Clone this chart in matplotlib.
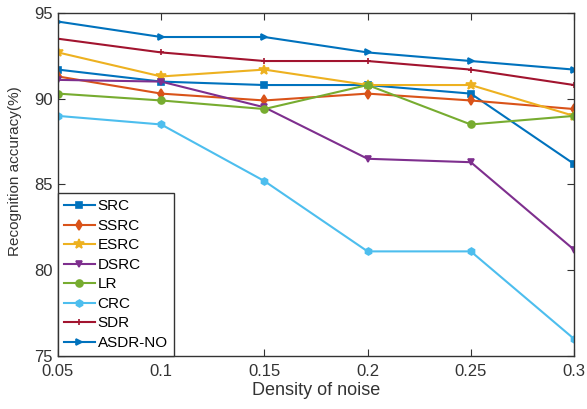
import matplotlib
matplotlib.use("Agg")
import matplotlib.pyplot as plt

x = [0.05, 0.1, 0.15, 0.2, 0.25, 0.3]
names = ["SRC", "SSRC", "ESRC", "DSRC", "LR", "CRC", "SDR", "ASDR-NO"]
src = [91.7, 91.0, 90.8, 90.8, 90.3, 86.2]
ssrc = [91.3, 90.3, 89.9, 90.3, 89.9, 89.4]
esrc = [92.7, 91.3, 91.7, 90.8, 90.8, 89.0]
dsrc = [91.1, 91.0, 89.5, 86.5, 86.3, 81.2]
lr = [90.3, 89.9, 89.4, 90.8, 88.5, 89.0]
crc = [89.0, 88.5, 85.2, 81.1, 81.1, 76.0]
sdr = [93.5, 92.7, 92.2, 92.2, 91.7, 90.8]
asdr = [94.5, 93.6, 93.6, 92.7, 92.2, 91.7]
series = [src, ssrc, esrc, dsrc, lr, crc, sdr, asdr]

colors = ["#0072BD", "#D95319", "#EDB120", "#7E2F8E", "#77AC30", "#4DBEEE", "#A2142F", "#0072BD"]
markers = ["s", "d", "*", "v", "o", "h", "+", ">"]

plt.rcParams['font.family'] = ['Liberation Sans', 'DejaVu Sans']
fig = plt.figure(figsize=(5.87, 4.09), dpi=100)
ax = fig.add_axes([58/587, 1-356/409, (574-58)/587, (356-13)/409])

for name, ys, c, m in zip(names, series, colors, markers):
    ms = 7 if m == "*" else 5
    ax.plot(x, ys, color=c, marker=m, markersize=ms, linewidth=1.5,
            markeredgewidth=1.2, label=name)

ax.set_xlim(0.05, 0.3)
ax.set_ylim(75, 95)
ax.set_xticks(x)
ax.set_xticklabels(["0.05", "0.1", "0.15", "0.2", "0.25", "0.3"])
ax.set_yticks([75, 80, 85, 90, 95])
ax.tick_params(direction='in', top=True, right=True, labelsize=12, colors='#333333', length=5)
ax.tick_params(axis='x', pad=6)
ax.tick_params(axis='y', pad=4)
for sp in ax.spines.values():
    sp.set_color('#333333')
    sp.set_linewidth(1.0)
ax.set_xlabel("Density of noise", fontsize=13, color='#333333', labelpad=2)
ax.set_ylabel("Recognition accuracy(%)", fontsize=11, color='#333333', labelpad=2)
ax.yaxis.set_label_coords(-0.07, 0.54)

leg = ax.legend(loc='lower left', borderaxespad=0, fancybox=False, edgecolor='#333333',
                fontsize=11, handlelength=2.0, handletextpad=0.2, labelspacing=0.36,
                borderpad=0.4, framealpha=1)
leg.get_frame().set_linewidth(1.0)

fig.savefig("out.png", dpi=100)
